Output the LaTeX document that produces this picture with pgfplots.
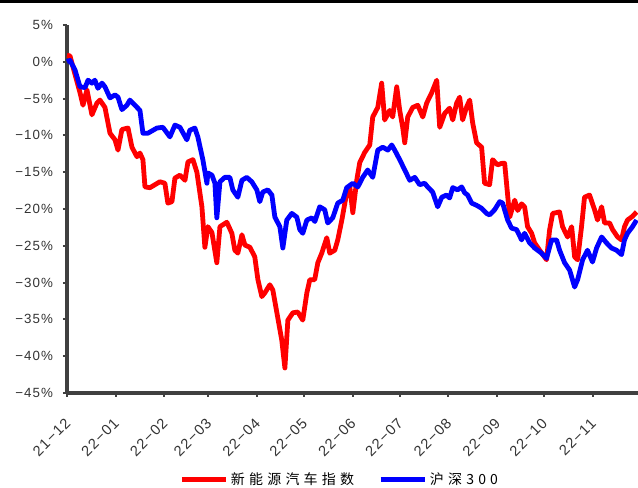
\documentclass[border=0pt]{standalone}
\usepackage{pgfplots}
\pgfplotsset{compat=1.18}
\usepackage{fontspec}
\setmainfont{Liberation Sans}
\newfontfamily\cjk[LetterSpace=30]{Noto Sans CJK SC}
\newfontfamily\xtickfont[LetterSpace=8]{Liberation Sans}
\newfontfamily\ytickfont[LetterSpace=8]{Liberation Sans}
\definecolor{axgray}{HTML}{404040}
\definecolor{lblgray}{HTML}{333333}

% x: days since 2021-12-01, y: cumulative return in %
\pgfplotstableread{
d v
0 0.9
1.9 0.8
8.3 -4.2
10.2 -5.9
12.7 -3.8
15.9 -7.2
19.1 -5.6
21.0 -5.2
24.2 -6.2
27.4 -9.7
30.6 -10.6
32.5 -12.0
35.0 -9.2
38.9 -9.0
41.4 -11.6
44.6 -12.9
46.5 -12.4
48.4 -13.3
49.7 -17.0
52.9 -17.1
59.2 -16.3
62.4 -16.5
64.3 -19.2
66.9 -19.0
68.8 -15.8
72.0 -15.4
75.2 -16.1
77.1 -13.6
80.3 -13.3
82.8 -15.0
86.0 -19.7
87.9 -25.2
89.8 -22.4
92.4 -23.2
95.5 -27.3
97.5 -22.4
101.9 -21.8
105.1 -23.3
107.0 -25.6
108.9 -26.0
111.5 -23.5
113.4 -24.9
116.6 -25.2
119.7 -26.5
121.7 -29.6
124.2 -31.9
126.1 -31.4
129.3 -30.3
131.2 -31.0
133.8 -34.1
136.9 -37.8
138.9 -41.6
140.8 -35.1
144.0 -34.1
147.1 -34.0
150.3 -35.1
152.9 -31.4
154.8 -29.6
157.9 -29.6
159.9 -27.3
162.4 -26.0
165.6 -23.9
167.5 -26.0
170.7 -25.6
172.6 -24.2
175.2 -21.5
178.3 -17.8
180.3 -17.0
182.2 -20.5
184.7 -16.1
186.6 -13.7
189.8 -12.3
193.0 -11.3
194.9 -7.5
198.1 -6.2
200.6 -2.9
202.5 -7.9
205.7 -6.6
207.6 -7.5
210.2 -3.4
212.1 -6.6
214.0 -8.9
215.3 -11.0
217.2 -7.5
220.4 -6.2
223.6 -5.9
226.8 -7.5
229.3 -5.6
232.5 -4.2
235.7 -2.5
237.6 -8.9
240.8 -7.0
243.9 -6.3
245.9 -7.9
248.4 -5.6
250.3 -4.8
252.2 -7.9
254.8 -6.1
256.7 -5.2
258.6 -8.3
261.1 -11.0
264.3 -11.6
266.2 -16.5
269.4 -16.7
271.3 -13.3
274.5 -14.0
277.1 -13.8
279.0 -13.8
282.2 -21.1
285.4 -18.8
287.3 -20.2
289.8 -19.3
291.7 -19.7
293.6 -22.4
296.2 -23.3
298.1 -24.6
301.3 -25.6
305.7 -26.9
307.6 -22.9
309.6 -20.6
314.0 -20.4
315.9 -22.4
319.1 -23.8
321.7 -22.4
323.6 -26.5
325.5 -26.9
328.0 -22.4
329.9 -18.4
333.1 -18.1
336.3 -20.1
338.2 -21.5
340.8 -19.7
342.7 -21.9
345.9 -21.9
347.8 -22.8
351.0 -23.8
353.5 -24.2
355.4 -22.4
357.3 -21.5
360.5 -21.0
363.1 -20.4
}\nev

\pgfplotstableread{
d v
0 0.0
1.9 0.2
5.1 -1.1
8.3 -3.4
11.5 -3.5
13.4 -2.5
15.9 -2.9
17.8 -2.5
19.7 -3.6
22.3 -2.9
24.2 -3.4
27.4 -4.9
30.6 -4.5
32.5 -4.8
35.0 -6.5
38.2 -5.9
40.1 -5.2
43.3 -5.9
46.5 -6.6
48.4 -9.7
51.6 -9.7
57.3 -9.0
61.1 -8.9
65.6 -10.2
68.8 -8.6
72.0 -8.9
76.4 -10.6
78.3 -9.3
81.5 -9.0
83.4 -10.2
86.6 -13.3
89.2 -16.5
89.8 -15.1
92.4 -15.4
94.3 -16.5
95.5 -21.2
97.5 -16.3
100.6 -15.7
103.8 -15.7
105.7 -17.4
108.9 -18.4
111.5 -16.1
114.6 -15.7
117.8 -16.3
121.0 -17.4
122.9 -19.0
124.8 -17.7
128.0 -17.4
130.6 -18.1
132.5 -21.1
135.7 -22.4
137.6 -25.3
140.1 -21.5
143.3 -20.6
146.5 -21.1
148.4 -22.8
150.3 -23.3
152.9 -21.5
156.1 -21.2
158.0 -21.7
161.1 -19.7
164.3 -20.1
166.2 -21.9
169.4 -21.2
172.6 -19.2
175.8 -18.8
178.3 -17.1
182.2 -16.5
185.4 -17.0
188.5 -15.7
191.7 -14.7
194.9 -15.7
198.1 -12.0
201.3 -11.6
204.5 -12.0
207.0 -11.3
208.9 -12.0
212.1 -13.3
215.3 -14.7
218.5 -16.1
221.7 -15.7
224.8 -16.7
228.0 -16.5
229.9 -17.0
233.1 -17.7
236.3 -19.7
238.9 -18.4
242.0 -18.1
243.9 -18.5
245.9 -17.1
249.0 -17.4
251.6 -17.0
253.5 -17.8
255.4 -18.1
258.0 -19.2
261.1 -19.5
264.3 -19.9
267.5 -20.6
269.4 -20.8
272.6 -20.1
275.8 -19.0
277.7 -19.2
280.9 -21.5
283.4 -22.6
286.6 -22.8
289.8 -24.2
291.7 -23.3
294.9 -24.6
298.1 -25.3
302.5 -26.0
305.7 -26.7
308.9 -24.2
312.1 -24.2
314.0 -25.6
317.2 -27.3
320.4 -28.3
323.6 -30.6
325.5 -29.6
328.7 -26.9
331.8 -25.6
335.0 -27.2
337.6 -25.3
340.8 -23.8
343.9 -24.6
347.1 -25.3
350.3 -25.6
353.5 -26.2
355.4 -24.2
357.3 -23.3
360.5 -22.4
363.1 -21.5
}\hs

\begin{document}
\begin{tikzpicture}
\begin{axis}[
    at={(0,0)}, anchor=south west,
    scale only axis,
    width=428.25pt, height=276pt,
    xmin=0, xmax=364,
    ymin=-45, ymax=5,
    axis x line=bottom, axis y line=left,
    axis line style={-, axgray, line width=2.5pt},
    every tick/.style={axgray, line width=1.5pt},
    tick align=outside,
    major tick length=3pt,
    xtick={0,31,62,90,121,151,182,212,243,274,304,335},
    xticklabels={21−12,22−01,22−02,22−03,22−04,22−05,22−06,22−07,22−08,22−09,22−10,22−11},
    ytick={-45,-40,-35,-30,-25,-20,-15,-10,-5,0,5},
    yticklabels={−45\%,−40\%,−35\%,−30\%,−25\%,−20\%,−15\%,−10\%,−5\%,0\%,5\%},
    tick label style={text=lblgray},
    yticklabel style={font=\fontsize{10}{12}\selectfont\ytickfont, xshift=-4pt},
    xticklabel style={font=\fontsize{11}{13}\selectfont\xtickfont, xshift=3pt, yshift=-15.5pt, rotate=45, anchor=east},
    legend style={at={(0.478,-0.236)}, anchor=center, draw=none,
        legend columns=2, font=\fontsize{10.5}{12}\selectfont\cjk,
        /tikz/every even column/.append style={column sep=16pt}},
    legend image code/.code={\draw[#1, line width=3.8pt] (0pt,0pt) -- (33pt,0pt);},
    clip=false,
]
\addplot[red, line width=3.6pt, line join=round] table[x=d, y=v] {\nev};
\addlegendentry{新能源汽车指数}
\addplot[blue, line width=3.6pt, line join=round] table[x=d, y=v] {\hs};
\addlegendentry{沪深300}
\end{axis}
\fill[black] (-50.25pt,292.5pt) rectangle (428.25pt,294.75pt);
\pgfresetboundingbox
\useasboundingbox (-50.25pt,-71.25pt) rectangle (428.25pt,294.75pt);
\end{tikzpicture}
\end{document}
